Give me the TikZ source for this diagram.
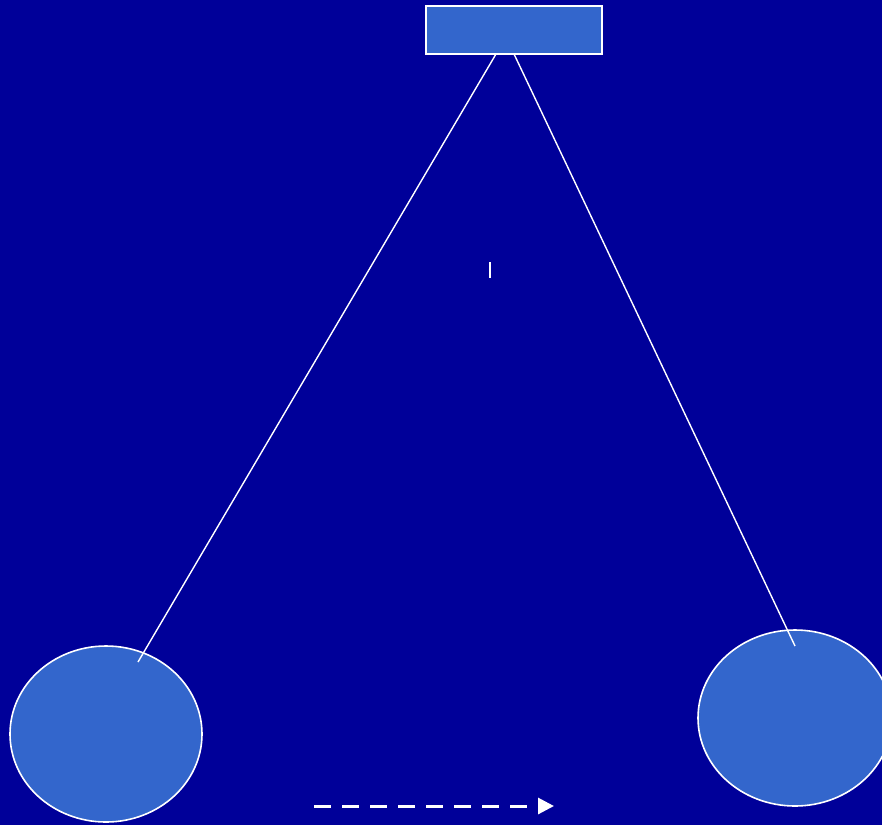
\documentclass[tikz,border=0pt]{standalone}
\usetikzlibrary{shapes.geometric,arrows.meta}
\definecolor{bgblue}{HTML}{000099}
\definecolor{fillblue}{HTML}{3366CC}
\tikzset{
  shapeline/.style={draw=white, line width=1.6pt, fill=fillblue},
  connector/.style={draw=white, line width=1.4pt},
}
\begin{document}
\begin{tikzpicture}[x=1pt,y=-1pt]
\fill[bgblue] (0,0) rectangle (882,825);
\useasboundingbox (0,0) rectangle (882,825);
\begin{scope}
\clip (0,0) rectangle (882,825);
\node[shapeline, rectangle, minimum width=176pt, minimum height=48pt, inner sep=0pt] (top) at (514,30) {};
\node[shapeline, ellipse, minimum width=192pt, minimum height=176pt, inner sep=0pt] (left) at (106,734) {};
\node[shapeline, ellipse, minimum width=194pt, minimum height=176pt, inner sep=0pt] (right) at (795,718) {};
\end{scope}
\coordinate (topl) at (496,54);
\coordinate (topr) at (514,54);
\coordinate (endl) at (138,662);
\coordinate (endr) at (795,646);
\draw[connector] (topl) -- (endl);
\draw[connector] (topr) -- (endr);
\coordinate (tickA) at (490,262);
\coordinate (tickB) at (490,278);
\draw[connector, line width=1.6pt] (tickA) -- (tickB);
\coordinate (arrA) at (314,806);
\coordinate (arrB) at (554,806);
\draw[white, line width=3pt, dash pattern=on 17pt off 11pt, -{Triangle[length=16pt,width=16pt]}] (arrA) -- (arrB);
\end{tikzpicture}
\end{document}
